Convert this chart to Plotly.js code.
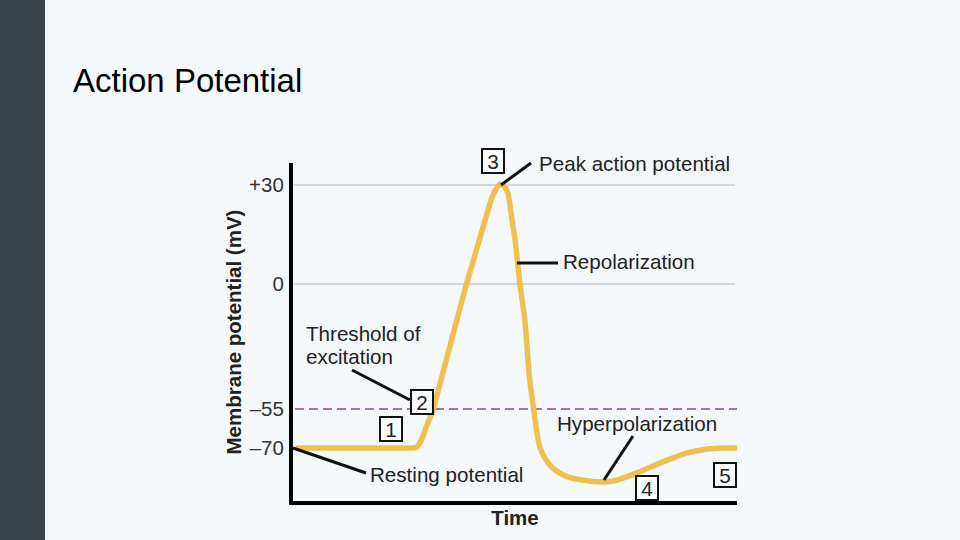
<!DOCTYPE html>
<html>
<head>
<meta charset="utf-8">
<script src="https://cdn.plot.ly/plotly-3.0.1.min.js"></script>
<style>
  html, body { margin: 0; padding: 0; background: #f4f8fb; }
  #chart { width: 960px; height: 540px; }
</style>
</head>
<body>
<div id="chart"></div>
<script>
// ---- Data (y in the chart's schematic units) ----
const timeMs = [0.02, 0.8, 1.6, 2.3, 2.62, 2.74, 2.85, 2.96, 3.12, 3.41, 3.68, 3.88, 4.17, 4.46, 4.55, 4.64, 4.73, 4.82, 4.91, 4.98, 5.09, 5.20, 5.31, 5.40, 5.47, 5.54, 5.65, 5.81, 5.99, 6.19, 6.48, 6.93, 7.20, 7.67, 8.27, 8.88, 9.33, 9.7, 10.0];
const potential = [-49.7, -49.7, -49.7, -49.7, -49.7, -49.5, -47.6, -43.6, -38.2, -23.6, -10.0, 0, 13.3, 26.4, 28.8, 30.3, 29.7, 27.3, 19.4, 13.3, 0, -10.9, -29.1, -37.9, -44.8, -49.4, -52.7, -55.5, -57.3, -58.5, -59.4, -60.0, -59.7, -57.6, -54.2, -51.2, -50.0, -49.7, -49.7];
const tickVals = [30, 0, -37.9, -49.7];
const tickLabels = ['+30', '0', '\u201355', '\u201370'];
const gridVals = [30, 0];
const thresholdVal = -37.9;

// ---- Layout helpers (pixel -> paper fraction) ----
const L = 293, R = 737, T = 163, B = 501;
const px = p => (p - L) / (R - L);
const py = p => (B - p) / (B - T);
const FONT = 'Liberation Sans, Arial, sans-serif';

const shapes = [];
// dark sidebar
shapes.push({type: 'rect', xref: 'paper', yref: 'paper', x0: px(0), x1: px(45), y0: py(540), y1: py(0),
  fillcolor: '#3b434b', line: {width: 0}, layer: 'below'});
gridVals.forEach(v => shapes.push({type: 'line', xref: 'paper', yref: 'y', x0: 0, x1: px(735), y0: v, y1: v,
  line: {color: '#c8cdd1', width: 1.5}, layer: 'below'}));
shapes.push({type: 'line', xref: 'paper', yref: 'y', x0: px(295), x1: px(737), y0: thresholdVal, y1: thresholdVal,
  line: {color: '#a673a4', width: 2, dash: '9px,5px'}, layer: 'below'});

// connector lines
const connectors = [
  [501, 185, 531, 163],
  [517, 263, 558, 263],
  [352, 370, 410, 400],
  [293, 448, 366, 473],
  [604, 480, 633, 436]
];
connectors.forEach(c => shapes.push({type: 'line', xref: 'paper', yref: 'paper',
  x0: px(c[0]), y0: py(c[1]), x1: px(c[2]), y1: py(c[3]), line: {color: '#111', width: 3}}));

const annotations = [];
function label(text, x, y) {
  annotations.push({text, xref: 'paper', yref: 'paper', x: px(x), y: py(y), xanchor: 'left', yanchor: 'middle',
    showarrow: false, font: {family: FONT, size: 20.6, color: '#222'}});
}
label('Peak action potential', 537, 163);
label('Repolarization', 561, 261);
label('Threshold of', 304, 333);
label('excitation', 304, 356);
label('Resting potential', 368, 474);
label('Hyperpolarization', 555, 423);

function box(text, cx, cy) {
  annotations.push({text, xref: 'paper', yref: 'paper', x: px(cx), y: py(cy), xanchor: 'center', yanchor: 'middle',
    showarrow: false, font: {family: FONT, size: 20.6, color: '#222'}, bgcolor: '#fbfcfd',
    bordercolor: '#111', borderwidth: 2, borderpad: 0, width: 20, height: 22});
}
box('3', 493, 161);
box('2', 421.5, 402);
box('1', 390.5, 429);
box('4', 646.5, 487.5);
box('5', 724.5, 474.5);

const trace = {
  x: timeMs, y: potential, type: 'scatter', mode: 'lines',
  line: {color: '#efc04f', width: 5.5, shape: 'spline', smoothing: 0.6}, hoverinfo: 'skip', showlegend: false
};

const layout = {
  width: 960, height: 540,
  paper_bgcolor: '#f4f8fb', plot_bgcolor: '#f4f8fb',
  margin: {l: L, r: 960 - R, t: T, b: 540 - B, pad: 0},
  title: {text: 'Action Potential', xref: 'container', yref: 'container', x: 73 / 960, xanchor: 'left',
    y: 1 - 80 / 540, yanchor: 'middle', font: {family: FONT, size: 33, color: '#000'}},
  xaxis: {range: [-0.045, 10], showgrid: false, zeroline: false, showline: true, linewidth: 4, linecolor: '#000',
    showticklabels: false, ticks: '', fixedrange: true,
    title: {text: '<b>Time</b>', font: {family: FONT, size: 20.5, color: '#222'}, standoff: 8}},
  yaxis: {range: [-65.76, 36.67], showgrid: false, zeroline: false, showline: true, linewidth: 4, linecolor: '#000',
    tickvals: tickVals, ticktext: tickLabels, ticks: '', ticklabelstandoff: 1,
    tickfont: {family: FONT, size: 20.5, color: '#333'}, fixedrange: true,
    title: {text: '<b>Membrane potential (mV)</b>', font: {family: FONT, size: 20.5, color: '#222'}, standoff: 3}},
  shapes, annotations
};

Plotly.newPlot('chart', [trace], layout, {displayModeBar: false, staticPlot: true});
</script>
</body>
</html>
